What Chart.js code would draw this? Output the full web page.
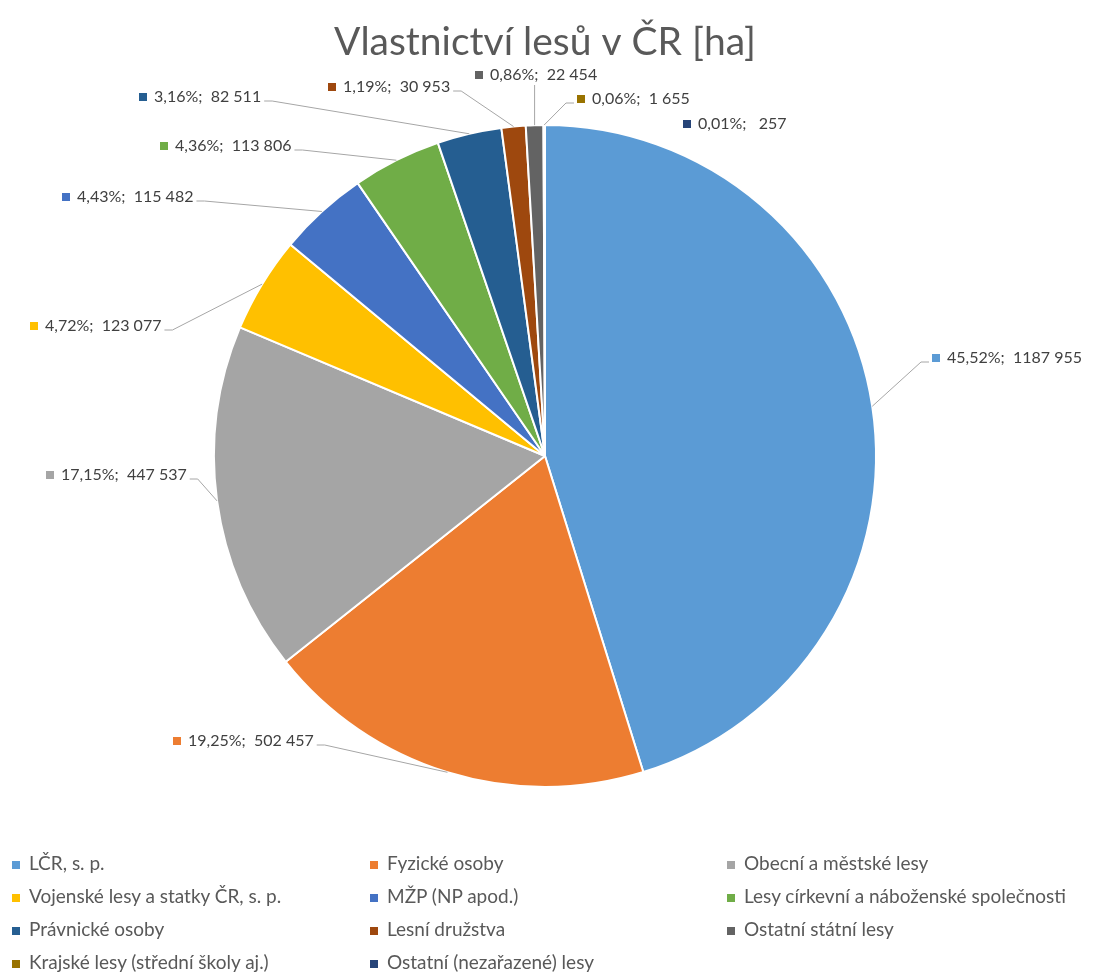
<!DOCTYPE html>
<html>
<head>
<meta charset="utf-8">
<script src="https://cdn.jsdelivr.net/npm/chart.js@4.4.1/dist/chart.umd.min.js"></script>
<style>
  body { margin: 0; background: #fff; }
  #wrap { position: relative; width: 1101px; height: 978px; }
  canvas { position: absolute; left: 0; top: 0; }
  .item { position: absolute; font: 19px Lato, sans-serif; color: #595959; white-space: nowrap; line-height: 22px; }
  .item i { display: inline-block; width: 8px; height: 8px; margin-right: 9px; vertical-align: 1px; }
</style>
</head>
<body>
<div id="wrap">
  <canvas id="chart" width="1101" height="978"></canvas>
  <div id="legend"></div>
</div>
<script>
// data
const categories = [
  'LČR, s. p.', 'Fyzické osoby', 'Obecní a městské lesy',
  'Vojenské lesy a statky ČR, s. p.', 'MŽP (NP apod.)', 'Lesy církevní a náboženské společnosti',
  'Právnické osoby', 'Lesní družstva', 'Ostatní státní lesy',
  'Krajské lesy (střední školy aj.)', 'Ostatní (nezařazené) lesy'
];
const areas = [1187955, 502457, 447537, 123077, 115482, 113806, 82511, 30953, 22454, 1655, 257];
const pctLabels = ['45,52%', '19,25%', '17,15%', '4,72%', '4,43%', '4,36%', '3,16%', '1,19%', '0,86%', '0,06%', '0,01%'];
const valueLabels = ['1187 955', '502 457', '447 537', '123 077', '115 482', '113 806', '82 511', '30 953', '22 454', '1 655', ' 257'];

const colors = ['#5B9BD5', '#ED7D31', '#A5A5A5', '#FFC000', '#4472C4', '#70AD47',
                '#255E91', '#9E480E', '#636363', '#997300', '#264478'];

// where each data label sits (marker left edge, middle of text)
const labelPos = [[932, 358], [173, 741], [46, 475], [30, 326], [62, 197], [160, 146],
                  [139, 97], [328, 87], [475, 75], [577, 99], [683, 124]];
const showLine = [true, true, true, true, true, true, true, true, true, true, false];

const leaderLabels = {
  id: 'leaderLabels',
  afterDatasetsDraw(chart) {
    const ctx = chart.ctx;
    const arcs = chart.getDatasetMeta(0).data;
    ctx.save();
    ctx.font = '16px Lato, sans-serif';
    ctx.textBaseline = 'middle';
    arcs.forEach((arc, i) => {
      const [mx, my] = labelPos[i];
      const text = pctLabels[i] + ';  ' + valueLabels[i];
      const tx = mx + 15;
      const w = ctx.measureText(text).width;
      ctx.fillStyle = colors[i];
      ctx.fillRect(mx, my - 4, 8, 8);
      ctx.fillStyle = '#404040';
      ctx.fillText(text, tx, my);
      if (!showLine[i]) return;
      const mid = (arc.startAngle + arc.endAngle) / 2;
      const px = arc.x + Math.cos(mid) * arc.outerRadius;
      const py = arc.y + Math.sin(mid) * arc.outerRadius;
      const left = mx - 3, right = tx + w + 3;
      ctx.strokeStyle = '#a6a6a6';
      ctx.lineWidth = 1;
      ctx.beginPath();
      if (px >= left && px <= right) {
        const ey = py > my ? my + 10 : my - 10;
        ctx.moveTo(px, ey);
        ctx.lineTo(px, py);
      } else {
        const sx = px < left ? left : right;
        const dir = px < left ? -1 : 1;
        ctx.moveTo(sx, my + 4);
        ctx.lineTo(sx + dir * 8, my + 4);
        ctx.lineTo(px, py);
      }
      ctx.stroke();
    });
    ctx.restore();
  }
};

new Chart(document.getElementById('chart'), {
  type: 'pie',
  data: {
    labels: categories,
    datasets: [{
      data: areas,
      backgroundColor: colors,
      borderColor: '#fff',
      borderWidth: 2
    }]
  },
  options: {
    responsive: false,
    animation: false,
    events: [],
    layout: { padding: { left: 0, right: 11, top: 0, bottom: 190 } },
    plugins: {
      legend: { display: false },
      tooltip: { enabled: false },
      title: {
        display: true,
        text: 'Vlastnictví lesů v ČR [ha]',
        color: '#595959',
        font: { family: 'Lato, sans-serif', size: 39, weight: 'normal', lineHeight: 1.2 },
        padding: { top: 18.6, bottom: 58.6 }
      }
    }
  },
  plugins: [leaderLabels]
});

// legend in three columns
const legendCols = [12, 370, 727];
const legendRows = [863, 896, 929, 962];
const legend = document.getElementById('legend');
categories.forEach((name, i) => {
  const el = document.createElement('div');
  el.className = 'item';
  el.style.left = legendCols[i % 3] + 'px';
  el.style.top = (legendRows[Math.floor(i / 3)] - 11) + 'px';
  el.innerHTML = '<i style="background:' + colors[i] + '"></i>' + name;
  legend.appendChild(el);
});
</script>
</body>
</html>
